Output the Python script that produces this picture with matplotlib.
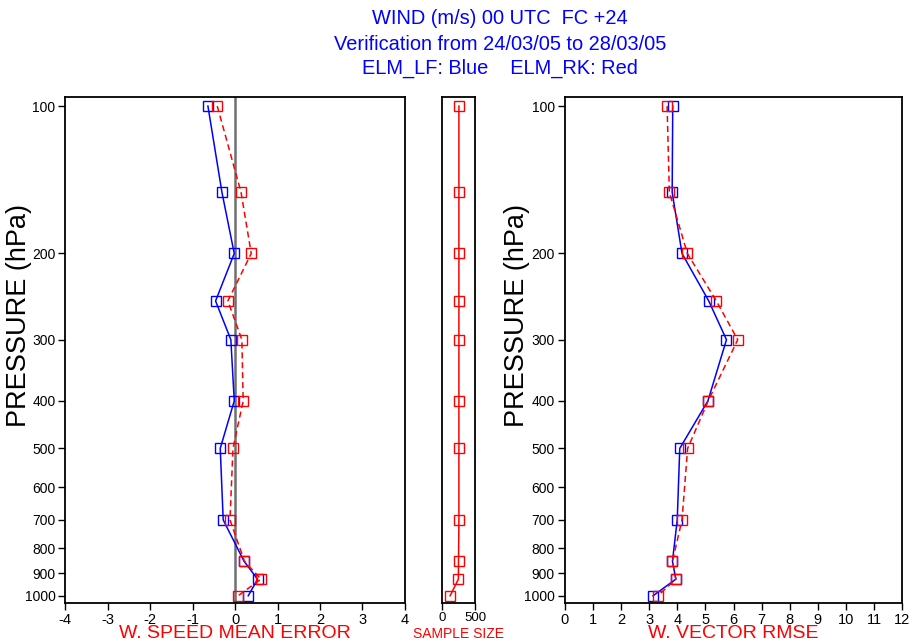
import numpy as np
import matplotlib
matplotlib.use("Agg")
from matplotlib import pyplot as plt

plt.rcParams['font.family'] = ['Liberation Sans', 'DejaVu Sans']
plt.rcParams['axes.unicode_minus'] = False

levels = [100, 150, 200, 250, 300, 400, 500, 700, 850, 925, 1000]
ytick_vals = [100, 200, 300, 400, 500, 600, 700, 800, 900, 1000]

# mean error of wind speed (m/s)
bias_lf = [-0.64, -0.31, -0.02, -0.46, -0.10, -0.02, -0.35, -0.28, 0.21, 0.53, 0.31]
bias_rk = [-0.42, 0.14, 0.38, -0.17, 0.16, 0.19, -0.05, -0.12, 0.22, 0.61, 0.07]

# sample size
nobs = [256, 256, 256, 256, 256, 256, 256, 256, 250, 248, 125]

# vector rmse (m/s)
rmse_lf = [3.84, 3.82, 4.17, 5.12, 5.75, 5.09, 4.09, 4.00, 3.83, 3.95, 3.14]
rmse_rk = [3.64, 3.72, 4.36, 5.39, 6.15, 5.10, 4.37, 4.17, 3.83, 3.95, 3.31]

fig = plt.figure(figsize=(9.13, 6.44), dpi=100)
ax1 = fig.add_axes([0.0715, 0.0632, 0.372, 0.7866])
ax2 = fig.add_axes([0.4838, 0.0632, 0.0368, 0.7866])
ax3 = fig.add_axes([0.6185, 0.0632, 0.3698, 0.7866])

mk = dict(marker='s', markersize=7, markerfacecolor='none', markeredgewidth=1.0)

ax1.axvline(0, color='#707070', lw=1.8, zorder=1)
ax1.plot(bias_lf, levels, color='blue', lw=1.1, **mk)
ax1.plot(bias_rk, levels, color='red', lw=1.1, ls=(0, (4, 2.5)), **mk)
ax1.set_xlim(-4, 4)
ax1.set_xticks(range(-4, 5))

ax2.plot(nobs, levels, color='red', lw=1.1, **mk)
ax2.set_xlim(0, 500)
ax2.set_xticks([0, 500])

ax3.plot(rmse_lf, levels, color='blue', lw=1.1, **mk)
ax3.plot(rmse_rk, levels, color='red', lw=1.1, ls=(0, (4, 2.5)), **mk)
ax3.set_xlim(0, 12)
ax3.set_xticks(range(0, 13))

for ax in (ax1, ax2, ax3):
    ax.set_yscale('log')
    ax.set_ylim(1036, 95.7)
    for s in ax.spines.values():
        s.set_linewidth(1.3)
    ax.tick_params(axis='x', direction='out', length=5, width=1, labelsize=10.5, pad=2)
ax2.tick_params(axis='x', labelsize=9.5, pad=1.5)

for ax in (ax1, ax3):
    ax.set_yticks(ytick_vals)
    ax.set_yticklabels([str(v) for v in ytick_vals])
    ax.minorticks_off()
    ax.tick_params(axis='y', direction='out', length=5, width=1, labelsize=10, pad=2)
    ax.set_ylabel('PRESSURE (hPa)', fontsize=19.5)
    ax.yaxis.label.set_va('center')
ax1.yaxis.set_label_coords(-(65.3 - 19) / 339.7, (603.3 - 315) / 506.6)
ax3.yaxis.set_label_coords(-(564.7 - 517) / 337.6, (603.3 - 315) / 506.6)
ax2.minorticks_off()
ax2.set_yticks([])

ax1.set_xlabel('W. SPEED MEAN ERROR', color='red', fontsize=14)
ax2.set_xlabel('SAMPLE SIZE', color='red', fontsize=10)
ax3.set_xlabel('W. VECTOR RMSE', color='red', fontsize=14)
for ax, ypx in ((ax1, 634), (ax2, 634), (ax3, 634)):
    ax.xaxis.set_label_coords(0.5, (603.3 - ypx) / 506.6)
    ax.xaxis.label.set_va('center')

fig.text(0.548, 1 - 18 / 644, 'WIND (m/s) 00 UTC  FC +24', color='blue', fontsize=14.4,
         ha='center', va='center')
fig.text(0.548, 1 - 44 / 644, 'Verification from 24/03/05 to 28/03/05', color='blue',
         fontsize=14.4, ha='center', va='center')
fig.text(0.548, 1 - 68 / 644, 'ELM_LF: Blue    ELM_RK: Red', color='blue', fontsize=14.4,
         ha='center', va='center')

fig.savefig('out.png', dpi=100)
